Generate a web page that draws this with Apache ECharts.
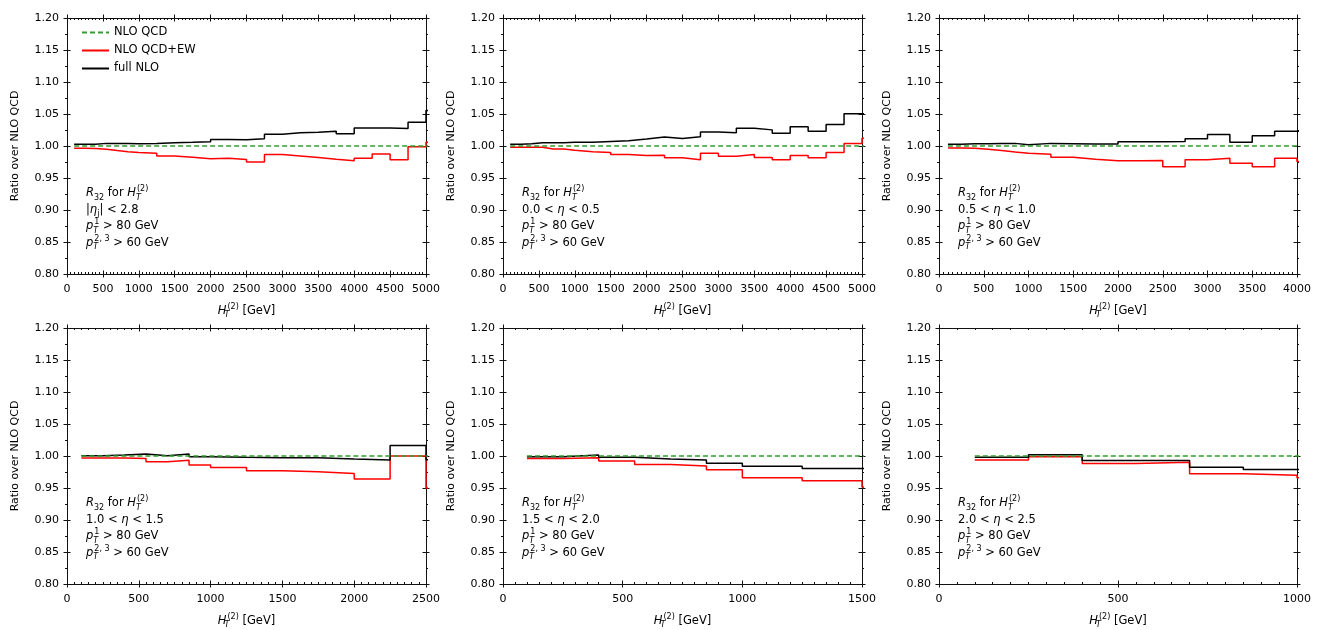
<!DOCTYPE html>
<html>
<head>
<meta charset="utf-8">
<script src="https://cdn.jsdelivr.net/npm/echarts@6/dist/echarts.min.js"></script>
<style>
html, body { margin: 0; padding: 0; background: #fff; }
#main { width: 1321px; height: 630px; }
</style>
</head>
<body>
<div id="main"></div>
<script>
// bin edges in GeV; the last edge closes an overflow bin that lies past the axis max (clipped)
var edges5000 = [100, 250, 400, 550, 700, 850, 1000, 1250, 1500, 1750, 2000, 2250, 2500, 2750, 3000, 3250, 3500, 3750, 4000, 4250, 4500, 4750, 5000, 5250];
var edges4000 = [100, 250, 400, 550, 700, 850, 1000, 1250, 1500, 1750, 2000, 2250, 2500, 2750, 3000, 3250, 3500, 3750, 4000, 4250];
var edges2500 = [100, 250, 400, 550, 700, 850, 1000, 1250, 1500, 1750, 2000, 2250, 2500, 2750];
var edges1500 = [100, 250, 400, 550, 700, 850, 1000, 1250, 1500, 1750];
var edges1000 = [100, 250, 400, 550, 700, 850, 1000, 1250];

// ratio over NLO QCD, one value per bin
var fullA = [1.0026, 1.0026, 1.0041, 1.0041, 1.0041, 1.0036, 1.0041, 1.0051, 1.0057, 1.0067, 1.0103, 1.0098, 1.0113, 1.0185, 1.0206, 1.0216, 1.0232, 1.019, 1.0283, 1.0283, 1.0273, 1.037, 1.0556];
var ewA   = [0.9964, 0.996, 0.995, 0.9928, 0.9912, 0.9897, 0.9887, 0.9845, 0.9825, 0.980, 0.981, 0.979, 0.975, 0.9866, 0.9845, 0.982, 0.9794, 0.977, 0.981, 0.9876, 0.9784, 0.999, 1.0057];

var fullB = [1.0026, 1.0036, 1.0051, 1.0051, 1.0051, 1.0057, 1.0057, 1.0072, 1.0082, 1.0108, 1.0139, 1.0118, 1.0144, 1.022, 1.0206, 1.0278, 1.0252, 1.020, 1.030, 1.0232, 1.0335, 1.0505, 1.0505];
var ewB   = [0.998, 0.998, 0.998, 0.9954, 0.9954, 0.9933, 0.9912, 0.990, 0.9866, 0.985, 0.9856, 0.9815, 0.9784, 0.9887, 0.984, 0.9866, 0.982, 0.9784, 0.985, 0.9815, 0.990, 1.004, 1.012];

var fullC = [1.0026, 1.0036, 1.0036, 1.0041, 1.0041, 1.002, 1.0041, 1.0036, 1.0031, 1.0031, 1.0067, 1.0067, 1.0072, 1.0113, 1.018, 1.0057, 1.016, 1.0232, 1.0232];
var ewC   = [0.9969, 0.9964, 0.9948, 0.9928, 0.9907, 0.9887, 0.9871, 0.9825, 0.9794, 0.9768, 0.9768, 0.9773, 0.9676, 0.9784, 0.981, 0.9732, 0.9676, 0.981, 0.9758];

var fullD = [1.0005, 1.0015, 1.0031, 1.0005, 1.0031, 0.999, 0.998, 0.9974, 0.9974, 0.9954, 0.9938, 1.0165, 0.994];
var ewD   = [0.9969, 0.9969, 0.9959, 0.9912, 0.9933, 0.9861, 0.982, 0.9768, 0.9753, 0.9727, 0.964, 1.000, 0.950];

var fullE = [0.999, 1.0015, 0.998, 0.9954, 0.9938, 0.9887, 0.984, 0.9804, 0.9804];
var ewE   = [0.9959, 0.9974, 0.9923, 0.9866, 0.9845, 0.9784, 0.966, 0.9614, 0.9515];

var fullF = [0.998, 1.002, 0.9928, 0.9928, 0.9825, 0.9789, 0.976];
var ewF   = [0.9938, 0.999, 0.9882, 0.9902, 0.9722, 0.9701, 0.966];

var qcdRef = 1.0;
var xMaxes = [5000, 5000, 4000, 2500, 1500, 1000];
var etaCuts = ['|{i|η}{s|j}| < 2.8', '0.0 < {i|η} < 0.5', '0.5 < {i|η} < 1.0',
               '1.0 < {i|η} < 1.5', '1.5 < {i|η} < 2.0', '2.0 < {i|η} < 2.5'];

var FONT = 'DejaVu Sans';
var panels = [
    { edges: edges5000, full: fullA, ew: ewA },
    { edges: edges5000, full: fullB, ew: ewB },
    { edges: edges4000, full: fullC, ew: ewC },
    { edges: edges2500, full: fullD, ew: ewD },
    { edges: edges1500, full: fullE, ew: ewE },
    { edges: edges1000, full: fullF, ew: ewF }
];
// left, top, width, height of every plot box
var layout = [[67, 18, 359, 256], [503, 18, 359, 256], [939, 18, 358, 256],
              [67, 328, 359, 257], [503, 328, 359, 257], [939, 328, 358, 257]];

var mathRich = {
    i:  { fontStyle: 'italic', fontFamily: FONT, fontSize: 11.5, lineHeight: 16 },
    s:  { fontFamily: FONT, fontSize: 8, lineHeight: 9, verticalAlign: 'bottom' },
    st: { fontStyle: 'italic', fontFamily: FONT, fontSize: 8, lineHeight: 9, verticalAlign: 'bottom', width: 1 },
    sp: { fontFamily: FONT, fontSize: 8, lineHeight: 9, verticalAlign: 'top' }
};

function stepData(edges, vals) {
    var d = [];
    for (var k = 0; k < vals.length; k++) d.push([edges[k], vals[k]]);
    d.push([edges[vals.length], vals[vals.length - 1]]);
    return d;
}

var grids = [], xAxes = [], yAxes = [], series = [], graphics = [];

panels.forEach(function (p, n) {
    var g = layout[n];
    grids.push({ left: g[0], top: g[1], width: g[2], height: g[3] });
    var xi = xAxes.length, yi = yAxes.length;

    function xa(pos, inside, labels, minor) {
        return {
            type: 'value', gridIndex: n, position: pos, min: 0, max: xMaxes[n], interval: 500,
            axisLine: { show: true, onZero: false, lineStyle: { color: '#111', width: 1 } },
            axisTick: { show: true, inside: inside, length: 3.5, lineStyle: { color: '#111' } },
            minorTick: { show: minor, splitNumber: 10, length: 2, lineStyle: { color: '#111' } },
            axisLabel: { show: labels, fontSize: 11, color: '#000', fontFamily: FONT, margin: 10,
                         formatter: function (v) { return String(v); } },
            splitLine: { show: false },
            name: labels ? '{i|H}{st|T}{sp|(2)} [GeV]' : '',
            nameLocation: 'middle', nameGap: 29,
            nameTextStyle: { fontSize: 11.5, color: '#000', fontFamily: FONT, rich: mathRich }
        };
    }
    function ya(pos, inside, labels, minor) {
        return {
            type: 'value', gridIndex: n, position: pos, min: 0.8, max: 1.2, interval: 0.05,
            axisLine: { show: true, onZero: false, lineStyle: { color: '#111', width: 1 } },
            axisTick: { show: true, inside: inside, length: 3.5, lineStyle: { color: '#111' } },
            minorTick: { show: minor, splitNumber: 2, length: 2, lineStyle: { color: '#111' } },
            axisLabel: { show: labels, fontSize: 11, color: '#000', fontFamily: FONT, margin: 8,
                         formatter: function (v) { return v.toFixed(2); } },
            splitLine: { show: false },
            name: labels ? 'Ratio over NLO QCD' : '',
            nameLocation: 'middle', nameGap: 46,
            nameTextStyle: { fontSize: 11, color: '#000', fontFamily: FONT }
        };
    }
    xAxes.push(xa('bottom', false, true, false));
    xAxes.push(xa('bottom', true, false, true));
    xAxes.push(xa('top', true, false, true));
    xAxes.push(xa('top', false, false, false));
    yAxes.push(ya('left', false, true, true));
    yAxes.push(ya('left', true, false, false));
    yAxes.push(ya('right', false, false, true));
    yAxes.push(ya('right', true, false, false));

    var e = p.edges;
    series.push({
        name: 'NLO QCD+EW', type: 'line', step: 'end', xAxisIndex: xi, yAxisIndex: yi,
        data: stepData(e, p.ew), symbol: 'none', z: 2,
        color: '#ff0000', lineStyle: { color: '#ff0000', width: 1.5 }
    });
    series.push({
        name: 'full NLO', type: 'line', step: 'end', xAxisIndex: xi, yAxisIndex: yi,
        data: stepData(e, p.full), symbol: 'none', z: 3,
        color: '#000000', lineStyle: { color: '#000000', width: 1.5 }
    });
    series.push({
        name: 'NLO QCD', type: 'line', xAxisIndex: xi, yAxisIndex: yi,
        data: [[e[0], qcdRef], [e[e.length - 1], qcdRef]], symbol: 'none', z: 4,
        color: '#2ca02c', lineStyle: { color: '#2ca02c', width: 1.3, type: [5, 3] }
    });

    graphics.push({
        type: 'text', left: g[0] + 19, top: g[1] + 167, silent: true,
        style: {
            text: '{i|R}{s|32} for {i|H}{st|T}{sp|(2)}\n' + etaCuts[n] +
                  '\n{i|p}{st|T}{sp|1} > 80 GeV\n{i|p}{st|T}{sp|2, 3} > 60 GeV',
            rich: mathRich, fontFamily: FONT, fontSize: 11.5, lineHeight: 16.5, fill: '#000'
        }
    });
});

var myChart = echarts.init(document.getElementById('main'));
myChart.setOption({
    animation: false,
    backgroundColor: '#fff',
    textStyle: { fontFamily: FONT },
    legend: {
        data: ['NLO QCD', 'NLO QCD+EW', 'full NLO'],
        orient: 'vertical', left: 76, top: 21.5,
        itemWidth: 27, itemHeight: 12, itemGap: 6,
        itemStyle: { opacity: 0 },
        textStyle: { fontSize: 11.5, color: '#000', fontFamily: FONT }
    },
    grid: grids,
    xAxis: xAxes,
    yAxis: yAxes,
    series: series,
    graphic: graphics
});
</script>
</body>
</html>
